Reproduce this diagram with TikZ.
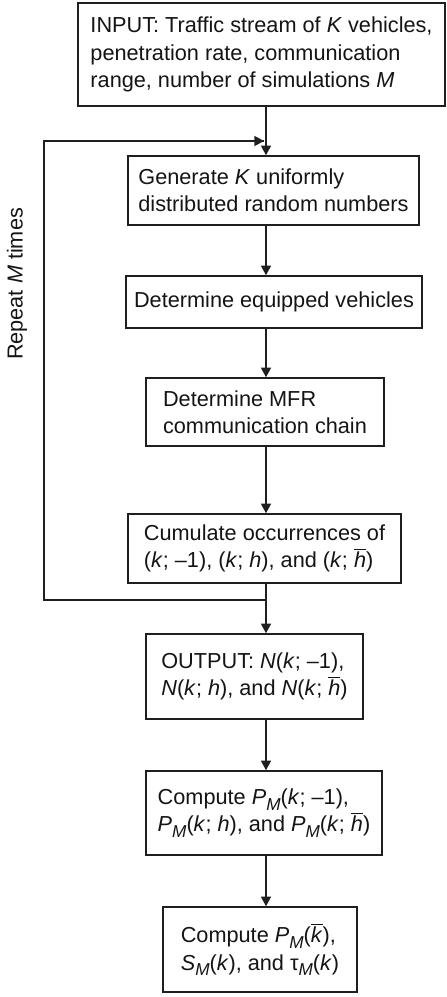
\documentclass[tikz,border=0pt]{standalone}
\usepackage{fontspec}
\setmainfont{Liberation Sans}
\usetikzlibrary{arrows.meta}
\newcommand\myM{\raisebox{-0.5ex}{\fontsize{8.6pt}{9pt}\selectfont\textit{M}}}
\newcommand\barit[1]{$\overline{\hbox{\textit{#1}}}$}
\begin{document}
\begin{tikzpicture}[x=0.5pt,y=-0.5pt,
  box/.style={draw=black!88, line width=0.75pt, rectangle, inner sep=0pt, align=left,
    font=\fontsize{10.85pt}{13.6pt}\selectfont, text=black!92},
  conn/.style={draw=black!88, line width=0.75pt},
  arr/.style={conn, -{Triangle[length=4.8pt,width=5pt]}}]
\useasboundingbox (0,0) rectangle (446,997);
\coordinate (sp) at (266,0);
\node[box, minimum width=367*0.5pt, minimum height=103*0.5pt] (b1) at (261.5,54.5)
  {INPUT: Traffic stream of \textit{K} vehicles,\\penetration rate, communication\\range, number of simulations \textit{M}};
\node[box, minimum width=291*0.5pt, minimum height=69*0.5pt] (b2) at (273.5,190.5)
  {Generate \textit{K} uniformly\\distributed random numbers};
\node[box, minimum width=296*0.5pt, minimum height=52*0.5pt] (b3) at (274,302)
  {Determine equipped vehicles};
\node[box, minimum width=238*0.5pt, minimum height=68*0.5pt] (b4) at (265,412)
  {Determine MFR\\communication chain};
\node[box, minimum width=273*0.5pt, minimum height=69*0.5pt] (b5) at (264.5,548.5)
  {Cumulate occurrences of\\(\textit{k}; –1), (\textit{k}; \textit{h}), and (\textit{k}; \barit{h})};
\node[box, minimum width=217*0.5pt, minimum height=85*0.5pt] (b6) at (254.5,676.5)
  {OUTPUT: \textit{N}(\textit{k}; –1),\\\textit{N}(\textit{k}; \textit{h}), and \textit{N}(\textit{k}; \barit{h})};
\node[box, minimum width=236*0.5pt, minimum height=84*0.5pt] (b7) at (264,813)
  {Compute \textit{P}\myM(\textit{k}; –1),\\\textit{P}\myM(\textit{k}; \textit{h}), and \textit{P}\myM(\textit{k}; \barit{h})};
\node[box, minimum width=194*0.5pt, minimum height=85*0.5pt] (b8) at (260,949.5)
  {Compute \textit{P}\myM(\barit{k}),\\\textit{S}\myM(\textit{k}), and τ\myM(\textit{k})};
\node[rotate=90, inner sep=0pt, font=\fontsize{10.85pt}{13.6pt}\selectfont, text=black!92] (rep) at (17,284)
  {Repeat \textit{M} times};
\coordinate (j1) at (266,600);
\coordinate (c1) at (44,600);
\coordinate (c2) at (44,141);
\coordinate (j2) at (264,141);
\draw[arr] (b1.south -| sp) -- (b2.north -| sp);
\draw[arr] (b2.south -| sp) -- (b3.north -| sp);
\draw[arr] (b3.south -| sp) -- (b4.north -| sp);
\draw[arr] (b4.south -| sp) -- (b5.north -| sp);
\draw[arr] (b5.south -| sp) -- (b6.north -| sp);
\draw[conn] (j1) -- (c1) -- (c2) -- (j2);
\draw[arr] (c2) -- (j2);
\draw[arr] (b6.south -| sp) -- (b7.north -| sp);
\draw[arr] (b7.south -| sp) -- (b8.north -| sp);
\end{tikzpicture}
\end{document}
